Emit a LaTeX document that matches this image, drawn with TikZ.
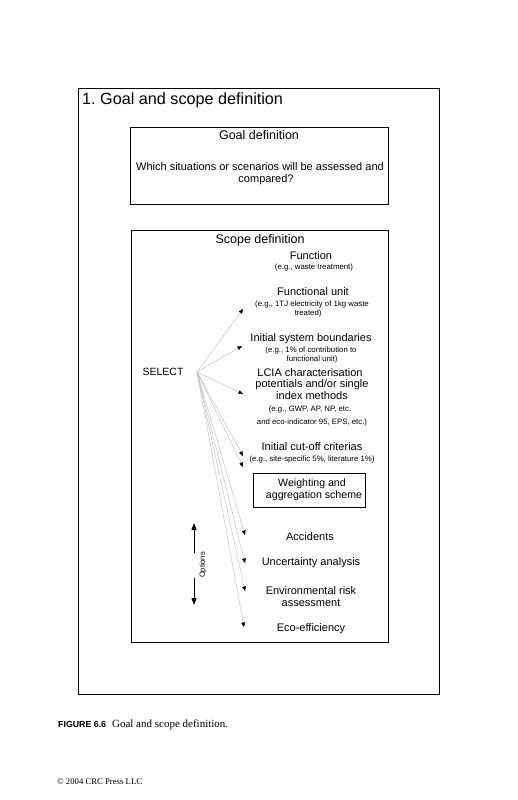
\documentclass[tikz,border=0pt]{standalone}
\usepackage{fontspec}
\setmainfont{Liberation Sans}
\newfontfamily\capserif{Liberation Serif}
\usetikzlibrary{arrows.meta}
\frenchspacing
\begin{document}
\begin{tikzpicture}[x=1pt,y=-1pt,
  lbl/.style={inner sep=0pt, font=\fontsize{11}{13}\selectfont},
  big/.style={inner sep=0pt, font=\fontsize{12.5}{14}\selectfont},
  sub/.style={inner sep=0pt, font=\fontsize{7.8}{9}\selectfont},
  box/.style={draw=black, line width=0.9pt},
  fanline/.style={draw=gray!55, line width=0.4pt, -{Triangle[length=4.5pt,width=3.8pt,color=black]}},
  optarrow/.style={draw=black, line width=1pt, -{Triangle[length=7pt,width=5pt]}},
]
\useasboundingbox (0,0) rectangle (518,800);
\fill[white] (0,0) rectangle (518,800);

% outer box and title
\draw[box] (78,88) rectangle (439,694);
\node[anchor=west, inner sep=0pt, font=\fontsize{16.2}{18}\selectfont] (title) at (82,100) {1. Goal and scope definition};

% goal box
\draw[box] (130,127) rectangle (388,204);
\node[big] (goal) at (259,135) {Goal definition};
\node[lbl] (q1) at (260,167) {Which situations or scenarios will be assessed and};
\node[lbl] (q2) at (266,180) {compared?};

% scope box
\draw[box] (131,230) rectangle (388,642);
\node[big] (scope) at (260,240) {Scope definition};

\node[lbl] (func) at (311,256) {Function};
\node[sub] (funcs) at (314,267) {(e.g., waste treatment)};

\node[lbl] (fu) at (313,292) {Functional unit};
\node[sub] (fus1) at (312,304) {(e.g., 1TJ electricity of 1kg waste};
\node[sub] (fus2) at (308,313) {treated)};

\node[lbl] (sb) at (311,339) {Initial system boundaries};
\node[sub] (sbs1) at (311,350) {(e.g., 1\% of contribution to};
\node[sub] (sbs2) at (312,359) {functional unit)};

\node[lbl] (lcia1) at (310,373) {LCIA characterisation};
\node[lbl] (lcia2) at (312,385) {potentials and/or single};
\node[lbl] (lcia3) at (312,396) {index methods};
\node[sub] (lcias1) at (310,409) {(e.g., GWP, AP, NP, etc.};
\node[sub] (lcias2) at (312,422) {and eco-indicator 95, EPS, etc.)};

\node[lbl] (co) at (312,447) {Initial cut-off criterias};
\node[sub] (cos) at (312,459) {(e.g., site-specific 5\%, literature 1\%)};

\draw[box] (253,473) rectangle (365,507);
\node[inner sep=0pt, font=\fontsize{10.6}{12}\selectfont] (w1) at (312,484) {Weighting and};
\node[inner sep=0pt, font=\fontsize{10.6}{12}\selectfont] (w2) at (314,496) {aggregation scheme};

\node[lbl] (acc) at (310,537) {Accidents};
\node[lbl] (unc) at (311,563) {Uncertainty analysis};
\node[lbl] (env1) at (311,591) {Environmental risk};
\node[lbl] (env2) at (311,603) {assessment};
\node[lbl] (eco) at (311,629) {Eco-efficiency};

\node[inner sep=0pt, font=\fontsize{10.5}{12}\selectfont] (select) at (163,372) {SELECT};

% fan of connectors
\coordinate (fan) at (197,372);
\coordinate (tfu) at (243,309);
\coordinate (tsb) at (242,346);
\coordinate (tlcia) at (243,394);
\coordinate (tco) at (243,456);
\coordinate (tw) at (243,467);
\coordinate (tacc) at (245,535);
\coordinate (tunc) at (245,563);
\coordinate (tenv) at (245,591);
\coordinate (teco) at (244,627);
\foreach \t in {tfu,tsb,tlcia,tco,tw,tacc,tunc,tenv,teco}
  \draw[fanline] (fan) -- (\t);

% options arrows
\coordinate (oup1) at (194,553);
\coordinate (oup2) at (194,523);
\coordinate (odn1) at (194,578);
\coordinate (odn2) at (194,605);
\draw[optarrow] (oup1) -- (oup2);
\draw[optarrow] (odn1) -- (odn2);
\node[inner sep=0pt, rotate=90, font=\fontsize{7.5}{9}\selectfont] (opt) at (203,565) {Options};

% caption
\node[anchor=west, inner sep=0pt] (cap) at (58,725) {{\fontsize{8.8}{10}\selectfont\bfseries FIGURE 6.6}\hspace{6pt}{\capserif\fontsize{11}{13}\selectfont Goal and scope definition.}};
\node[anchor=west, inner sep=0pt] (copy) at (57,782) {\capserif\fontsize{8.7}{10}\selectfont © 2004 CRC Press LLC};
\end{tikzpicture}
\end{document}
